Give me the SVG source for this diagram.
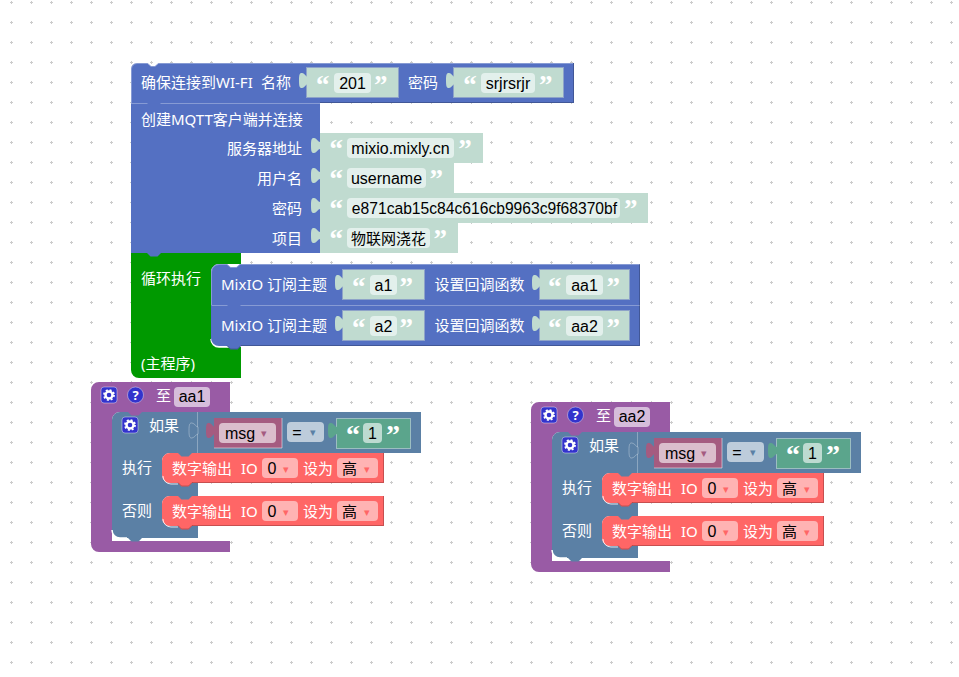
<svg xmlns="http://www.w3.org/2000/svg" width="959" height="677" viewBox="0 0 959 677">
<style>
text{font-family:"Noto Sans","Noto Sans CJK SC",sans-serif;font-size:15px;fill:#fff}
.k{font-family:"Liberation Sans","Noto Sans CJK SC",sans-serif;font-size:16px;fill:#000}
.c{font-family:"Noto Sans CJK SC",sans-serif;font-size:15px;fill:#000}
.m{text-anchor:middle}
.e{text-anchor:end}
.q{font-family:"Liberation Serif",serif;font-weight:bold;font-size:27px}
.q1{font-family:"Liberation Serif",serif;font-weight:bold;font-size:28px}
.arr{font-size:11px}
.blue{fill:#5470c2}
.green{fill:#009900}
.purple{fill:#995ba5}
.logic{fill:#5b80a5}
.red{fill:#ff6666}
.str{fill:#c0dbd0}
.strv{fill:#c0dbd0;stroke:#8ea3c8;stroke-width:1}
.strf{fill:#e3f0ec}
.txt{fill:#5ba58c}
.txtf{fill:#bddbd1}
.var{fill:#a55b80}
.varf{fill:#dbbdcc}
.eqf{fill:#bdccdb}
.pf{fill:#d6bddb}
.rf{fill:#ffb3b3}
.hl{fill:none;stroke:#fff;stroke-opacity:.3;stroke-width:1}
.sh{fill:none;stroke:#000;stroke-opacity:.22;stroke-width:1}
.wh{fill:none;stroke:#fff;stroke-width:1.500}
.wt{fill:none;stroke:#fff;stroke-width:1;stroke-opacity:.8}
.ico{fill:#3333cc;stroke:#fff;stroke-opacity:.4}
</style>
<defs>
<pattern id="grid" width="20" height="20" patternUnits="userSpaceOnUse">
<path d="M10 2.500h3M11.500 1v3" stroke="#ccc" stroke-width="1" fill="none"/>
</pattern>
<path id="tab" d="M1 9C-1 9-2 5.500-5 5C-7.500 4.700-8 7-8 12.500C-8 18-7.500 20.300-5 20C-2 19.500-1 16 1 16z"/>
<path id="foot" d="M0 0l3.500 3.500h7l3.500-3.500z"/>
<g id="gear">
<rect x="-8" y="-8" width="16" height="16" rx="3" class="ico"/>
<circle r="3.500" fill="none" stroke="#fff" stroke-width="2.400"/>
<circle r="5" fill="none" stroke="#fff" stroke-width="1.800" stroke-dasharray="2 1.930"/>
</g>
</defs>
<rect width="959" height="677" fill="#fff"/>
<rect width="959" height="677" fill="url(#grid)"/>

<g id="connectors"></g>

<g id="loop">
<path class="green" d="M131 253H241V264H219a8 8 0 0 0-8 8V339a8 8 0 0 0 8 8H241V378H139a8 8 0 0 1-8-8z"/>
<path class="wh" d="M211 339a8 8 0 0 0 8 8h10"/>
<text x="141" y="284">循环执行</text>
<text x="141" y="369">(主程序)</text>
</g>

<g id="mqtt">
<path class="blue" d="M131 103H320V253H131z"/>
<path class="hl" d="M131 103.500H320"/>
<use href="#foot" x="147" y="253" class="blue"/>
<text x="141" y="125">创建MQTT客户端并连接</text>
<text class="e" x="302" y="154">服务器地址</text>
<text class="e" x="302" y="184">用户名</text>
<text class="e" x="302" y="214">密码</text>
<text class="e" x="302" y="244">项目</text>
<path class="str" d="M320 133H483V163H454V193H648V223H458V253H320z"/>
<use href="#tab" x="319" y="133" class="str"/>
<use href="#tab" x="319" y="163" class="str"/>
<use href="#tab" x="319" y="193" class="str"/>
<use href="#tab" x="319" y="223" class="str"/>
<rect class="strf" x="347" y="138" width="107" height="20" rx="4"/>
<rect class="strf" x="347" y="168" width="79" height="20" rx="4"/>
<rect class="strf" x="347" y="198" width="273" height="20" rx="4"/>
<rect class="strf" x="347" y="228" width="83" height="20" rx="4"/>
<text class="q" x="329.500" y="158">“</text><text class="q" x="458.200" y="158">”</text>
<text class="q" x="329.500" y="188">“</text><text class="q" x="429.500" y="188">”</text>
<text class="q" x="329.500" y="218">“</text><text class="q" x="623.900" y="218">”</text>
<text class="q" x="329.500" y="248">“</text><text class="q" x="433.500" y="248">”</text>
<text class="k m" x="400.500" y="154">mixio.mixly.cn</text>
<text class="k m" x="386.500" y="184">username</text>
<text class="k m" x="484.500" y="214" style="font-size:15.650px">e871cab15c84c616cb9963c9f68370bf</text>
<text class="c m" x="388.500" y="244">物联网浇花</text>
</g>

<g id="wifi">
<path class="blue" d="M131 103V69a6 6 0 0 1 6-6H147.500l3.500 3h4l3.500-3H574V103z"/>
<path class="hl" d="M131.500 103V69a5.500 5.500 0 0 1 5.500-5.500H147.500l3.500 3h4l3.500-3H573"/>
<path class="sh" d="M573.500 63V102.500H320"/>
<use href="#foot" x="147" y="103" class="blue"/>
<text x="141" y="88">确保连接到WI-FI</text>
<text x="261" y="88">名称</text>
<text x="408" y="88">密码</text>
<rect class="strv" x="306.500" y="67.500" width="92" height="30"/>
<use href="#tab" x="307" y="68" class="str"/>
<rect class="strf" x="334" y="73" width="37" height="20" rx="4"/>
<text class="q" x="315.900" y="94">“</text><text class="q" x="373.900" y="94">”</text>
<text class="k m" x="352.500" y="89">201</text>
<rect class="strv" x="453.500" y="67.500" width="110" height="30"/>
<use href="#tab" x="454" y="68" class="str"/>
<rect class="strf" x="481" y="73" width="54" height="20" rx="4"/>
<text class="q" x="463.200" y="94">“</text><text class="q" x="538.900" y="94">”</text>
<text class="k m" x="508" y="89">srjrsrjr</text>
</g>

<g id="sub1">
<path class="blue" d="M211 305V272a8 8 0 0 1 8-8H227l3.500 3h6l3.500-3H640V305z"/>
<path class="hl" d="M211.500 305V272a7.500 7.500 0 0 1 7.500-7.500H227l3.500 3h6l3.500-3H640"/>
<text x="221" y="290">MixIO 订阅主题</text>
<text x="434.500" y="290">设置回调函数</text>
<rect class="strv" x="342.500" y="269.500" width="82" height="30"/>
<use href="#tab" x="343" y="270" class="str"/>
<rect class="strf" x="370" y="275" width="27" height="20" rx="4"/>
<text class="q" x="351.900" y="296">“</text><text class="q" x="399.500" y="296">”</text>
<text class="k m" x="383.500" y="291">a1</text>
<rect class="strv" x="539.500" y="269.500" width="90" height="30"/>
<use href="#tab" x="540" y="270" class="str"/>
<rect class="strf" x="566" y="275" width="37" height="20" rx="4"/>
<text class="q" x="547.900" y="296">“</text><text class="q" x="606.500" y="296">”</text>
<text class="k m" x="584.500" y="291">aa1</text>
</g>

<g id="sub2">
<path class="blue" d="M211 305H640V346H241l-3.500 3.500h-7L227 346H219a8 8 0 0 1-8-8z"/>
<path class="hl" d="M211.500 305.500H640"/>
<path class="sh" d="M639.500 264V345.500H241l-3.500 3.500h-7L227 345.500"/>
<use href="#foot" x="227" y="305" class="blue"/>
<text x="221" y="331">MixIO 订阅主题</text>
<text x="434.500" y="331">设置回调函数</text>
<rect class="strv" x="342.500" y="310.500" width="82" height="30"/>
<use href="#tab" x="343" y="311" class="str"/>
<rect class="strf" x="370" y="316" width="27" height="20" rx="4"/>
<text class="q" x="351.900" y="337">“</text><text class="q" x="399.500" y="337">”</text>
<text class="k m" x="383.500" y="332">a2</text>
<rect class="strv" x="539.500" y="310.500" width="90" height="30"/>
<use href="#tab" x="540" y="311" class="str"/>
<rect class="strf" x="566" y="316" width="37" height="20" rx="4"/>
<text class="q" x="547.900" y="337">“</text><text class="q" x="606.500" y="337">”</text>
<text class="k m" x="584.500" y="332">aa2</text>
</g>

<g id="proc1">
<path class="purple" d="M99 382H230V412H120a8 8 0 0 0-8 8V541H230V552H99a8 8 0 0 1-8-8V390a8 8 0 0 1 8-8z"/>
<use href="#gear" x="109" y="395"/>
<circle class="ico" cx="135.500" cy="395" r="8"/>
<text class="m" x="135.500" y="400" style="font-size:13px;font-weight:bold">?</text>
<text x="156" y="401">至</text>
<rect class="pf" x="174" y="387" width="36" height="20" rx="4"/>
<text class="k m" x="192" y="402">aa1</text>
<g id="if1">
<path class="logic" d="M120 412H421V453H170a8 8 0 0 0-8 8V475a8 8 0 0 0 8 8H198V496H170a8 8 0 0 0-8 8V518a8 8 0 0 0 8 8H198V538H142l-3.500 3.500h-7L128 538H120a8 8 0 0 1-8-8V420a8 8 0 0 1 8-8z"/>
<path class="wh" d="M112 530a8 8 0 0 0 8 8h7"/>
<path class="wh" d="M142 539.500H198" style="stroke-width:1;stroke-opacity:.6"/>
<path class="hl" d="M197.500 412V453"/>
<use href="#foot" x="128" y="412" class="purple"/>
<use href="#gear" x="130" y="425"/>
<text x="149" y="431">如果</text>
<use href="#tab" x="197" y="418" class="logic" style="stroke:#fff;stroke-opacity:.3"/>
<text x="122" y="473">执行</text>
<text x="122" y="516">否则</text>
<path class="var" d="M214 418H282V448H214z"/>
<path class="hl" d="M282 418V448H214" style="stroke-opacity:.5"/>
<use href="#tab" x="214" y="418" class="var"/>
<rect class="varf" x="219" y="423" width="57" height="20" rx="4"/>
<text class="k" x="225" y="439">msg</text>
<text class="arr m" style="fill:#a55b80" x="264" y="437">▾</text>
<rect class="eqf" x="287" y="422" width="37" height="20" rx="4"/>
<text class="k m" x="297" y="438">=</text>
<text class="arr m" style="fill:#5b80a5" x="313" y="436">▾</text>
<rect class="txt" x="336.500" y="418.500" width="74" height="30" style="stroke:#fff;stroke-opacity:.4"/>
<use href="#tab" x="336" y="418" class="txt"/>
<rect class="txtf" x="363" y="423" width="19" height="20" rx="4"/>
<text class="q1" x="346" y="444">“</text><text class="q1" x="386" y="444">”</text>
<text class="k m" x="372.500" y="439">1</text>
</g>
<g id="do1">
<path class="red" d="M170 453H384V483H192l-3.500 3.500h-7L178 483H170a8 8 0 0 1-8-8V461a8 8 0 0 1 8-8z"/>
<use href="#foot" x="178" y="453" class="logic"/>
<path class="wt" d="M163 476a8 8 0 0 0 8 8h7"/>
<path class="sh" d="M383.500 453V482.500H192l-3.500 3.500h-7L178 482.500"/>
<text x="172" y="474">数字输出</text>
<text x="241" y="474">IO</text>
<rect class="rf" x="262" y="458" width="36" height="20" rx="4"/>
<text class="k m" x="272" y="474">0</text>
<text class="arr m" style="fill:#ff6666" x="286" y="473">▾</text>
<text x="303" y="474">设为</text>
<rect class="rf" x="337" y="458" width="41" height="20" rx="4"/>
<text class="c" x="342" y="474">高</text>
<text class="arr m" style="fill:#ff6666" x="367" y="473">▾</text>
</g>
<g id="else1">
<path class="red" d="M170 496H384V526H192l-3.500 3.500h-7L178 526H170a8 8 0 0 1-8-8V504a8 8 0 0 1 8-8z"/>
<use href="#foot" x="178" y="496" class="logic"/>
<path class="wt" d="M163 519a8 8 0 0 0 8 8h7"/>
<path class="sh" d="M383.500 496V525.500H192l-3.500 3.500h-7L178 525.500"/>
<text x="172" y="517">数字输出</text>
<text x="241" y="517">IO</text>
<rect class="rf" x="262" y="501" width="36" height="20" rx="4"/>
<text class="k m" x="272" y="517">0</text>
<text class="arr m" style="fill:#ff6666" x="286" y="516">▾</text>
<text x="303" y="517">设为</text>
<rect class="rf" x="337" y="501" width="41" height="20" rx="4"/>
<text class="c" x="342" y="517">高</text>
<text class="arr m" style="fill:#ff6666" x="367" y="516">▾</text>
</g>
</g>

<g id="proc2" transform="translate(440,20)">
<path class="purple" d="M99 382H230V412H120a8 8 0 0 0-8 8V541H230V552H99a8 8 0 0 1-8-8V390a8 8 0 0 1 8-8z"/>
<use href="#gear" x="109" y="395"/>
<circle class="ico" cx="135.500" cy="395" r="8"/>
<text class="m" x="135.500" y="400" style="font-size:13px;font-weight:bold">?</text>
<text x="156" y="401">至</text>
<rect class="pf" x="174" y="387" width="36" height="20" rx="4"/>
<text class="k m" x="192" y="402">aa2</text>
<g id="if2">
<path class="logic" d="M120 412H421V453H170a8 8 0 0 0-8 8V475a8 8 0 0 0 8 8H198V496H170a8 8 0 0 0-8 8V518a8 8 0 0 0 8 8H198V538H142l-3.500 3.500h-7L128 538H120a8 8 0 0 1-8-8V420a8 8 0 0 1 8-8z"/>
<path class="wh" d="M112 530a8 8 0 0 0 8 8h7"/>
<path class="wh" d="M142 539.500H198" style="stroke-width:1;stroke-opacity:.6"/>
<path class="hl" d="M197.500 412V453"/>
<use href="#foot" x="128" y="412" class="purple"/>
<use href="#gear" x="130" y="425"/>
<text x="149" y="431">如果</text>
<use href="#tab" x="197" y="418" class="logic" style="stroke:#fff;stroke-opacity:.3"/>
<text x="122" y="473">执行</text>
<text x="122" y="516">否则</text>
<path class="var" d="M214 418H282V448H214z"/>
<path class="hl" d="M282 418V448H214" style="stroke-opacity:.5"/>
<use href="#tab" x="214" y="418" class="var"/>
<rect class="varf" x="219" y="423" width="57" height="20" rx="4"/>
<text class="k" x="225" y="439">msg</text>
<text class="arr m" style="fill:#a55b80" x="264" y="437">▾</text>
<rect class="eqf" x="287" y="422" width="37" height="20" rx="4"/>
<text class="k m" x="297" y="438">=</text>
<text class="arr m" style="fill:#5b80a5" x="313" y="436">▾</text>
<rect class="txt" x="336.500" y="418.500" width="74" height="30" style="stroke:#fff;stroke-opacity:.4"/>
<use href="#tab" x="336" y="418" class="txt"/>
<rect class="txtf" x="363" y="423" width="19" height="20" rx="4"/>
<text class="q1" x="346" y="444">“</text><text class="q1" x="386" y="444">”</text>
<text class="k m" x="372.500" y="439">1</text>
</g>
<g id="do2">
<path class="red" d="M170 453H384V483H192l-3.500 3.500h-7L178 483H170a8 8 0 0 1-8-8V461a8 8 0 0 1 8-8z"/>
<use href="#foot" x="178" y="453" class="logic"/>
<path class="wt" d="M163 476a8 8 0 0 0 8 8h7"/>
<path class="sh" d="M383.500 453V482.500H192l-3.500 3.500h-7L178 482.500"/>
<text x="172" y="474">数字输出</text>
<text x="241" y="474">IO</text>
<rect class="rf" x="262" y="458" width="36" height="20" rx="4"/>
<text class="k m" x="272" y="474">0</text>
<text class="arr m" style="fill:#ff6666" x="286" y="473">▾</text>
<text x="303" y="474">设为</text>
<rect class="rf" x="337" y="458" width="41" height="20" rx="4"/>
<text class="c" x="342" y="474">高</text>
<text class="arr m" style="fill:#ff6666" x="367" y="473">▾</text>
</g>
<g id="else2">
<path class="red" d="M170 496H384V526H192l-3.500 3.500h-7L178 526H170a8 8 0 0 1-8-8V504a8 8 0 0 1 8-8z"/>
<use href="#foot" x="178" y="496" class="logic"/>
<path class="wt" d="M163 519a8 8 0 0 0 8 8h7"/>
<path class="sh" d="M383.500 496V525.500H192l-3.500 3.500h-7L178 525.500"/>
<text x="172" y="517">数字输出</text>
<text x="241" y="517">IO</text>
<rect class="rf" x="262" y="501" width="36" height="20" rx="4"/>
<text class="k m" x="272" y="517">0</text>
<text class="arr m" style="fill:#ff6666" x="286" y="516">▾</text>
<text x="303" y="517">设为</text>
<rect class="rf" x="337" y="501" width="41" height="20" rx="4"/>
<text class="c" x="342" y="517">高</text>
<text class="arr m" style="fill:#ff6666" x="367" y="516">▾</text>
</g>
</g>
</svg>
